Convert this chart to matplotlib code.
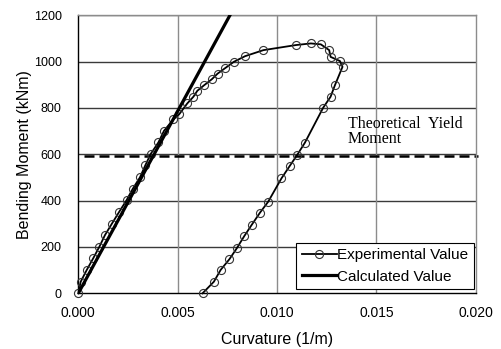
import matplotlib
matplotlib.use("Agg")
import matplotlib.pyplot as plt

exp_curv = [0.0, 0.00012, 0.00042, 0.00075, 0.00106, 0.00134, 0.00168, 0.00206, 0.00243,
            0.00274, 0.0031, 0.00337, 0.00364, 0.00403, 0.00431, 0.00478, 0.00508, 0.00548,
            0.00579, 0.00599, 0.00632, 0.00671, 0.00701, 0.00738, 0.00783, 0.00839, 0.00931,
            0.01095, 0.0117, 0.0122, 0.01262, 0.01269, 0.01316, 0.01329, 0.01291, 0.01269,
            0.01232, 0.0114, 0.01101, 0.01064, 0.01022, 0.00955, 0.00914, 0.00872, 0.00835,
            0.00797, 0.0076, 0.00716, 0.00682, 0.00625]
exp_moment = [0, 50, 100, 151, 201, 251, 299, 352, 402, 451, 500, 552, 601, 651, 701, 750,
              773, 819, 848, 874, 897, 923, 948, 971, 999, 1023, 1049, 1071, 1078, 1074, 1049,
              1020, 1002, 977, 898, 848, 801, 650, 597, 550, 496, 395, 348, 295, 247, 194, 147,
              101, 50, 0]
calc_curv = [0.0, 0.00763]
calc_moment = [0, 1200]
yield_moment = 593
yield_curv_range = [0.0003, 0.0201]

fig = plt.figure(figsize=(5.02, 3.49), dpi=100)
ax = fig.add_axes([0.156, 0.1596, 0.792, 0.797])

ax.set_xlim(0, 0.02)
ax.set_ylim(0, 1200)
ax.set_xticks([0, 0.005, 0.010, 0.015, 0.020])
ax.set_xticklabels(["0.000", "0.005", "0.010", "0.015", "0.020"])
ax.set_yticks(range(0, 1201, 200))

for y in range(200, 1201, 200):
    ax.axhline(y, color="#3a3a3a", lw=1.0, zorder=0)
for x in [0.005, 0.010, 0.015]:
    ax.axvline(x, color="#8c8c8c", lw=1.0, zorder=0)

ax.plot(yield_curv_range, [yield_moment, yield_moment], color="black", lw=1.8,
        linestyle=(0, (4, 2)), clip_on=False, zorder=2)

ax.plot(exp_curv, exp_moment, color="black", lw=1.3, marker="o", markersize=5.8,
        markerfacecolor="none", markeredgecolor="#333333", markeredgewidth=0.8,
        label="Experimental Value", clip_on=False, zorder=3)
ax.plot(calc_curv, calc_moment, color="black", lw=2.3, label="Calculated Value", zorder=3)

ax.text(0.01356, 765, "Theoretical  Yield\nMoment", family="Liberation Serif",
        fontsize=11.5, va="top", ha="left", linespacing=0.95)

for s in ["left", "bottom"]:
    ax.spines[s].set_color("black")
    ax.spines[s].set_linewidth(1.0)
for s in ["top", "right"]:
    ax.spines[s].set_color("#8c8c8c")
    ax.spines[s].set_linewidth(1.0)

ax.tick_params(axis="x", length=0, labelsize=10, pad=9)
ax.tick_params(axis="y", length=0, labelsize=9, pad=12)
for lab in ax.get_xticklabels() + ax.get_yticklabels():
    lab.set_family("Liberation Sans")
ax.set_xlabel("Curvature (1/m)", family="Liberation Sans", fontsize=11.5, labelpad=9)
ax.set_ylabel("Bending Moment (kNm)", family="Liberation Sans", fontsize=11.5, labelpad=1)

leg = ax.legend(loc="lower right", bbox_to_anchor=(0.995, 0.015), fancybox=False,
                edgecolor="black", framealpha=1, handlelength=2.3, handletextpad=0.05,
                borderpad=0.35, labelspacing=0.5, borderaxespad=0,
                prop={"family": "Liberation Sans", "size": 11})
leg.get_frame().set_linewidth(0.8)

fig.savefig("out.png", dpi=100)
